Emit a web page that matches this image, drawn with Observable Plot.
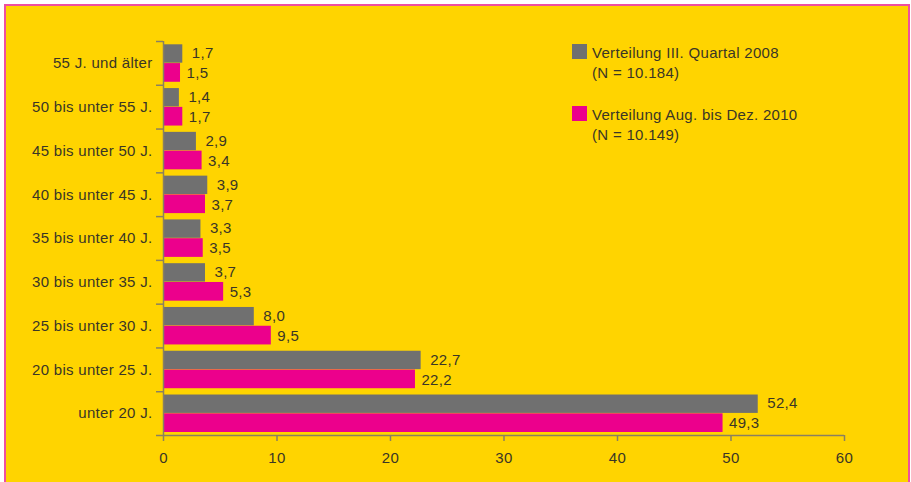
<!DOCTYPE html>
<html><head><meta charset="utf-8">
<script src="https://cdn.jsdelivr.net/npm/d3@7"></script>
<script src="https://cdn.jsdelivr.net/npm/@observablehq/plot@0.6"></script>
<style>
html,body{margin:0;padding:0;background:#fff;}
#wrap{position:relative;width:911px;height:482px;overflow:hidden;font-family:"Liberation Sans",Arial,sans-serif;}
#frame{position:absolute;left:4px;top:4px;width:902px;height:490px;background:#FFD400;border:2px solid #EE4FA0;}
#chart{position:absolute;left:0;top:0;}
#legend{position:absolute;left:572px;top:43px;font-size:15px;letter-spacing:0.3px;color:#3a3626;line-height:20px;}
.item{position:relative;padding-left:20px;margin-bottom:22px;}
.sw{position:absolute;left:0;top:1px;width:15px;height:15px;}
</style></head>
<body><div id="wrap"><div id="frame"></div><div id="chart"></div>
<div id="legend"></div></div>
<script>
const categories = ["55 J. und älter","50 bis unter 55 J.","45 bis unter 50 J.","40 bis unter 45 J.","35 bis unter 40 J.","30 bis unter 35 J.","25 bis unter 30 J.","20 bis unter 25 J.","unter 20 J."];
const series2008 = [1.7,1.4,2.9,3.9,3.3,3.7,8.0,22.7,52.4];
const series2010 = [1.5,1.7,3.4,3.7,3.5,5.3,9.5,22.2,49.3];
const seriesNames = ["Verteilung III. Quartal 2008","Verteilung Aug. bis Dez. 2010"];
const seriesN = ["(N = 10.184)","(N = 10.149)"];
const xTicks = [0,10,20,30,40,50,60];
const colors = ["#707070","#EC008C"];

const W = 911, H = 482, mT = 41, mB = 47, mL = 163, mR = 67;
const bw = (H - mT - mB) / categories.length;
const half = bw / 2;
const fmt = v => v.toFixed(1).replace(".", ",");
const d08 = categories.map((c,i)=>({cat:c, v:series2008[i]}));
const d10 = categories.map((c,i)=>({cat:c, v:series2010[i]}));
const axisCol = "#8a8060";
const txtCol = "#3a3626";

const chart = Plot.plot({
  width: W, height: H,
  marginTop: mT, marginBottom: mB, marginLeft: mL, marginRight: mR,
  style: {background: "transparent", fontFamily: '"Liberation Sans", Arial, sans-serif', fontSize: "15px", color: txtCol, letterSpacing: "0.3px"},
  x: {domain: [0, 60], ticks: xTicks, label: null},
  y: {domain: categories, padding: 0, round: false, label: null},
  marks: [
    Plot.barX(d08, {x: "v", y: "cat", fill: colors[0], insetTop: 3.3, insetBottom: half + 0.2}),
    Plot.barX(d10, {x: "v", y: "cat", fill: colors[1], insetTop: half + 0.2, insetBottom: 3}),
    Plot.text(d08, {x: "v", y: "cat", text: d => fmt(d.v), dx: 9, dy: -10, textAnchor: "start", fill: txtCol, fontSize: 15}),
    Plot.text(d10, {x: "v", y: "cat", text: d => fmt(d.v), dx: 6, dy: 10, textAnchor: "start", fill: txtCol, fontSize: 15}),
    Plot.ruleX([0], {stroke: axisCol, strokeWidth: 1.5}),
    Plot.ruleY(categories, {y: d => d, x1: 0, x2: 0, insetLeft: -7, dy: -half, stroke: axisCol, strokeWidth: 1.5}),
    Plot.ruleY([categories[categories.length-1]], {y: d => d, x1: 0, x2: 0, insetLeft: -7, dy: half, stroke: axisCol, strokeWidth: 1.5}),
    Plot.axisY({tickSize: 0, tickPadding: 11, fill: txtCol, fontSize: 15, label: null}),
    Plot.axisX({ticks: xTicks, tickSize: 6, tickPadding: 11, stroke: axisCol, strokeWidth: 1.5, fill: txtCol, fontSize: 15, tickFormat: d => String(d), label: null}),
    Plot.ruleY([categories[categories.length-1]], {y: d => d, x1: 0, x2: 60, dy: half, stroke: axisCol, strokeWidth: 1.5})
  ]
});
document.getElementById("chart").appendChild(chart);

const leg = document.getElementById("legend");
seriesNames.forEach((n,i)=>{
  const it = document.createElement("div");
  it.className = "item";
  it.innerHTML = `<span class="sw" style="background:${colors[i]}"></span>${n}<br>${seriesN[i]}`;
  leg.appendChild(it);
});
</script></body></html>
